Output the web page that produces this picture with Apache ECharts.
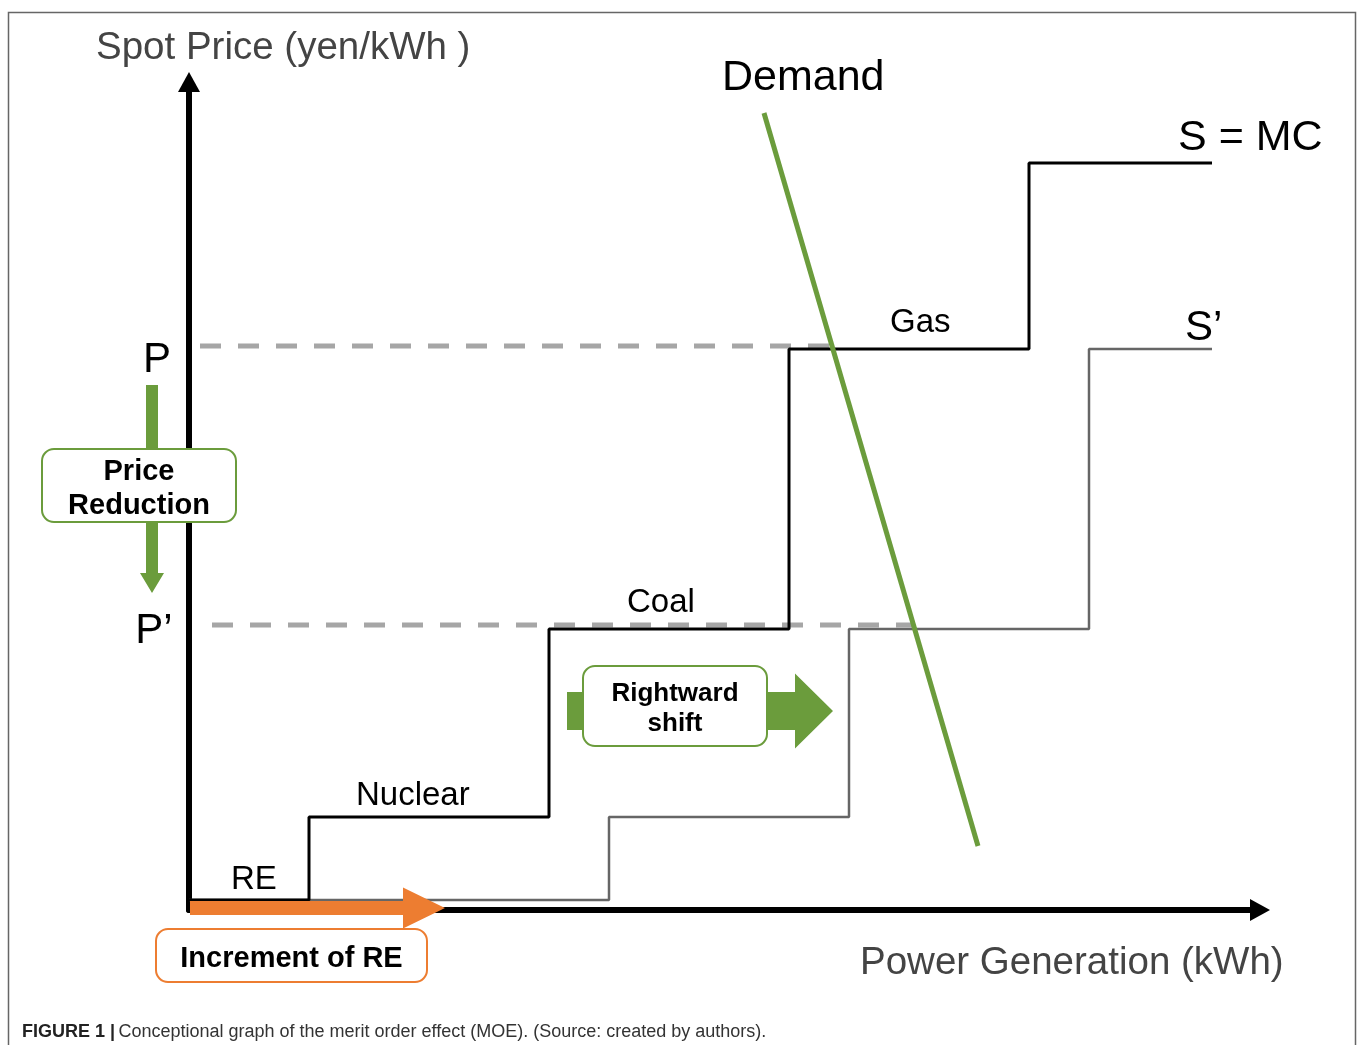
<!DOCTYPE html>
<html><head><meta charset="utf-8">
<script src="https://cdn.jsdelivr.net/npm/echarts@6/dist/echarts.min.js"></script>
<style>html,body{margin:0;padding:0;background:#fff}#c{width:1358px;height:1045px}</style>
</head><body><div id="c"></div>
<script>
// ---- data (abstract units: generation on x, price on y) ----
const techNames = ['RE', 'Nuclear', 'Coal', 'Gas'];
const supplyS = [[0,10],[120,10],[120,93],[360,93],[360,281],[600,281],[600,561],[840,561],[840,747],[1023,747]];
const supplySPrime = [[0,10],[420,10],[420,93],[660,93],[660,281],[900,281],[900,561],[1023,561]];
const demand = [[575,797],[789,64]];
const pLine = [[11,564],[644,564]];
const pPrimeLine = [[23,285],[726,285]];
const arrowPrice = [[-37,525,-37,317]];
const arrowRE = [[1,2,256,2]];
const arrowShift = [[378,199,644,199]];
const boxTexts = ['Price\nReduction', 'Increment of RE', 'Rightward\nshift'];
const boxRects = [[-147,461,47,388],[-33,-19,238,-72],[394,244,578,164]];
const labelTexts = ['Spot Price (yen/kWh )','Demand','S = MC','S\u2019','Gas','Coal','Nuclear','RE','P','P\u2019','Power Generation (kWh)'];
const labelPos = [[-93,862],[533,832],[989,772],[996,582],[701,587],[438,307],[167,114],[42,30],[-32,550],[-35,279],[671,-53]];

// ---- styles ----
const FONT = '"Liberation Sans", Arial, Helvetica, sans-serif';
const GREEN = '#6b9c3c', ORANGE = '#ed7d31';
const labelStyles = [
  {size:38.5, color:'#444', align:'left'},
  {size:43, color:'#000', align:'left'},
  {size:43, color:'#000', align:'left'},
  {size:42, color:'#000', align:'left'},
  {size:33, color:'#000', align:'left'},
  {size:33, color:'#000', align:'left'},
  {size:33, color:'#000', align:'left'},
  {size:33, color:'#000', align:'left'},
  {size:42, color:'#000', align:'center'},
  {size:42, color:'#000', align:'center'},
  {size:38.5, color:'#444', align:'left'}
];
const boxStyles = [
  {color:GREEN, size:29, lh:34},
  {color:ORANGE, size:29, lh:34},
  {color:GREEN, size:26, lh:30}
];

function arrowPoints(p0, p1, sh, hl, hh) {
  const dx = p1[0]-p0[0], dy = p1[1]-p0[1];
  const L = Math.hypot(dx, dy), ux = dx/L, uy = dy/L, nx = -uy, ny = ux;
  const bx = p1[0]-ux*hl, by = p1[1]-uy*hl;
  return [
    [p0[0]+nx*sh, p0[1]+ny*sh], [bx+nx*sh, by+ny*sh], [bx+nx*hh, by+ny*hh],
    [p1[0], p1[1]],
    [bx-nx*hh, by-ny*hh], [bx-nx*sh, by-ny*sh], [p0[0]-nx*sh, p0[1]-ny*sh]
  ];
}
function arrowSeries(data, sh, hl, hh, color) {
  return {
    type:'custom', z:5, silent:true, data:data,
    renderItem: function(params, api) {
      const p0 = api.coord([api.value(0), api.value(1)]);
      const p1 = api.coord([api.value(2), api.value(3)]);
      return {type:'polygon', shape:{points: arrowPoints(p0, p1, sh, hl, hh)}, style:{fill:color}};
    }
  };
}

const chart = echarts.init(document.getElementById('c'), null, {renderer:'canvas'});
const option = {
  animation:false,
  backgroundColor:'#fff',
  grid:{left:189, top:82, right:98, bottom:135, containLabel:false},
  xAxis:{type:'value', min:0, max:1071, splitLine:{show:false}, axisTick:{show:false}, axisLabel:{show:false},
    axisLine:{show:true, onZero:false, symbol:['none','triangle'], symbolSize:[22,20], lineStyle:{color:'#000', width:6}}},
  yAxis:{type:'value', min:0, max:828, splitLine:{show:false}, axisTick:{show:false}, axisLabel:{show:false},
    axisLine:{show:true, onZero:false, symbol:['none','triangle'], symbolSize:[22,20], lineStyle:{color:'#000', width:6}}},
  graphic:[
    {type:'polyline', silent:true, z:0, shape:{points:[[8.5,1045],[8.5,12.5],[1355.5,12.5],[1355.5,1045]]}, style:{stroke:'#666', lineWidth:1.5, fill:null}},
    {type:'text', silent:true, left:22, top:1023, style:{
      text:'{b|FIGURE 1 |} {n|Conceptional graph of the merit order effect (MOE). (Source: created by authors).}',
      rich:{
        b:{font:'bold 18px "Liberation Sans Narrow", "Liberation Sans", Arial, sans-serif', fill:'#222'},
        n:{font:'18px "Liberation Sans Narrow", "Liberation Sans", Arial, sans-serif', fill:'#333'}
      }}}
  ],
  series:[
    {name:'P', type:'line', z:2, silent:true, symbol:'none', data:pLine, lineStyle:{color:'#a6a6a6', width:5, type:[21,17]}},
    {name:'P\u2019', type:'line', z:2, silent:true, symbol:'none', data:pPrimeLine, lineStyle:{color:'#a6a6a6', width:5, type:[21,17]}},
    {name:'S\u2019', type:'line', z:3, silent:true, symbol:'none', data:supplySPrime, lineStyle:{color:'#666', width:2.5}},
    {name:'S = MC', type:'line', z:3, silent:true, symbol:'none', data:supplyS, lineStyle:{color:'#000', width:3}},
    {name:'Demand', type:'line', z:4, silent:true, symbol:'none', data:demand, lineStyle:{color:GREEN, width:5}},
    arrowSeries(arrowPrice, 6, 20, 12, GREEN),
    arrowSeries(arrowRE, 7, 42, 20.5, ORANGE),
    arrowSeries(arrowShift, 19, 38, 37.5, GREEN),
    {
      type:'custom', z:6, silent:true,
      data: boxRects.map(function(r, i){ return r.concat([i]); }),
      renderItem: function(params, api) {
        const i = api.value(4);
        const a = api.coord([api.value(0), api.value(1)]);
        const b = api.coord([api.value(2), api.value(3)]);
        const st = boxStyles[i];
        return {type:'group', children:[
          {type:'rect', shape:{x:a[0], y:a[1], width:b[0]-a[0], height:b[1]-a[1], r:12}, style:{fill:'#fff', stroke:st.color, lineWidth:2}},
          {type:'text', style:{text:boxTexts[i], x:(a[0]+b[0])/2, y:(a[1]+b[1])/2 + 3, align:'center', verticalAlign:'middle',
            font:'bold '+st.size+'px '+FONT, lineHeight:st.lh, fill:'#000'}}
        ]};
      }
    },
    {
      type:'custom', z:7, silent:true,
      data: labelPos.map(function(p, i){ return p.concat([i]); }),
      renderItem: function(params, api) {
        const i = api.value(2);
        const p = api.coord([api.value(0), api.value(1)]);
        const st = labelStyles[i];
        return {type:'text', style:{text:labelTexts[i], x:p[0], y:p[1], align:st.align, verticalAlign:'middle',
          font:st.size+'px '+FONT, fill:st.color}};
      }
    }
  ]
};
chart.setOption(option);
</script>
</body></html>
